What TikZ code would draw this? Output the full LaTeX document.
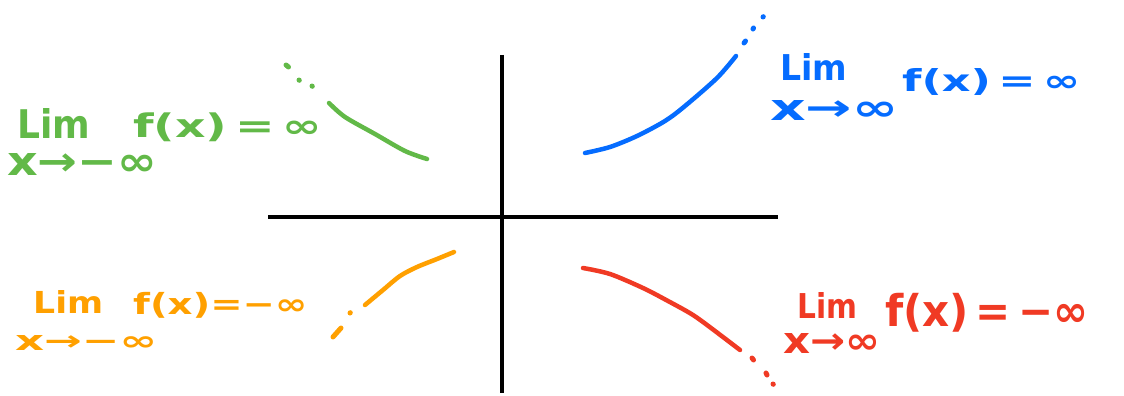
\documentclass[tikz,border=0pt]{standalone}
\usepackage{fontspec}
\setmainfont{DejaVu Sans}
\usepackage{graphicx}
\definecolor{cgreen}{RGB}{98,185,72}
\definecolor{cblue}{RGB}{5,108,255}
\definecolor{corange}{RGB}{255,160,0}
\definecolor{cred}{RGB}{240,58,36}
\newcommand{\lbl}[7]{\node[anchor=north west,inner sep=0pt,text=#2] (#1) at (#3,#4) {\resizebox*{#5pt}{#6pt}{\bfseries #7}};}
\begin{document}
\begin{tikzpicture}[x=1pt,y=-1pt,
  axis/.style={line width=4pt,black},
  pen/.style={line width=4.5pt,line cap=round,line join=round},
  dot/.style={line width=5pt,line cap=round}]
\useasboundingbox (0,0) rectangle (1124,396);
% axes
\coordinate (yt) at (502,55); \coordinate (yb) at (502,393);
\coordinate (xl) at (268,217); \coordinate (xr) at (778,217);
\draw[axis] (yt) -- (yb);
\draw[axis] (xl) -- (xr);
% green (top-left)
\draw[pen,cgreen] plot[smooth] coordinates {(329,103) (345,117) (375,134) (405,151) (427,159)};
\draw[dot,cgreen] (286,65) -- (288.5,67);
\draw[dot,cgreen] (299,80) -- (299.3,80.3);
\draw[dot,cgreen] (312,86) -- (312.3,86.3);
\lbl{gl}{cgreen}{17}{108}{73}{30}{Lim}
\lbl{gf}{cgreen}{133}{113}{189}{29}{f(x)\,=\,∞}
\lbl{gx}{cgreen}{7}{153}{150}{22}{x→−∞}
% blue (top-right)
\draw[pen,cblue] plot[smooth] coordinates {(585,153) (610,147) (637,136) (665,121) (685,106) (717,78) (736,56)};
\draw[dot,cblue] (744,43) -- (745.5,41);
\draw[dot,cblue] (753,29) -- (753.5,28);
\draw[dot,cblue] (763,17) -- (763.3,16.7);
\lbl{bl}{cblue}{780}{53}{67}{27}{Lim}
\lbl{bx}{cblue}{770}{100}{128}{20}{x→∞}
\lbl{bf}{cblue}{902}{68}{178}{27}{f(x)\,=\,∞}
% orange (bottom-left)
\draw[pen,corange] plot[smooth] coordinates {(454,252) (437,259) (417,267) (400,276) (383,290) (365,305)};
\draw[dot,corange] (350,313) -- (350.3,312.7);
\draw[dot,corange] (341,328) -- (333,337);
\lbl{ol}{corange}{33}{290}{70}{23}{Lim}
\lbl{of}{corange}{133}{292}{174}{26}{f(x)=−∞}
\lbl{ox}{corange}{15}{335}{142}{15}{x→−∞}
% red (bottom-right)
\draw[pen,cred] plot[smooth] coordinates {(583,268) (610,274) (643,288) (668,301) (693,315) (715,331) (740,350)};
\draw[dot,cred] (752,358) -- (753.5,360);
\draw[dot,cred] (766,373) -- (767,375);
\draw[dot,cred] (773,384) -- (773.3,384.3);
\lbl{rl}{cred}{797}{292}{60}{26}{Lim}
\lbl{rf}{cred}{885}{293}{203}{39}{f(x)\,=\,−∞}
\lbl{rx}{cred}{783}{333}{97}{20}{x→∞}
\end{tikzpicture}
\end{document}
